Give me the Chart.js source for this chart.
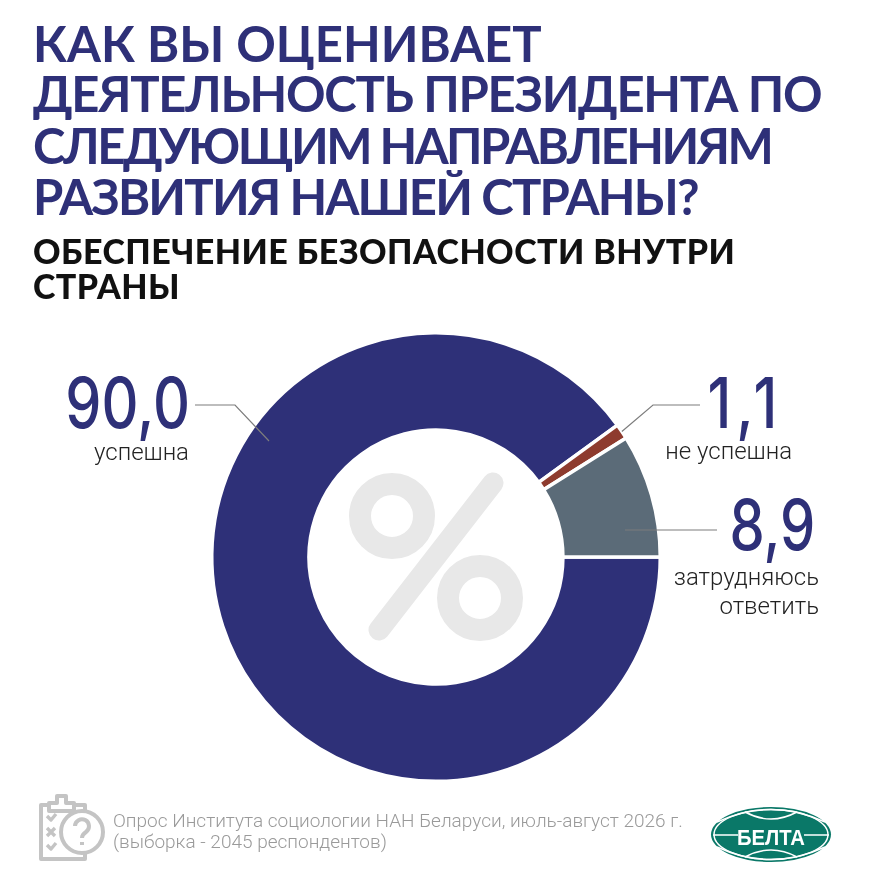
<!DOCTYPE html>
<html lang="ru"><head><meta charset="utf-8">
<script src="https://cdn.jsdelivr.net/npm/chart.js@4"></script>
<style>
html,body{margin:0;padding:0;background:#fff;width:870px;height:884px;overflow:hidden}
#wrap{position:relative;width:870px;height:884px}
canvas{position:absolute;left:0;top:0}
.t{position:absolute;white-space:nowrap;margin:0}
.title{left:33px;font:700 49px/51px Lato,sans-serif;color:#2e3078}
.sub{left:33px;font:900 34px/40px Lato,sans-serif;color:#111;letter-spacing:.45px}
.num{font:500 70px/70px Inter,sans-serif;color:#2e3078;transform:scaleX(.82);transform-origin:right center}
.lab{font:300 24px/28px Roboto,sans-serif;color:#222}
.src{left:113px;font:300 19px/21px Roboto,sans-serif;color:#9a9a9a}
svg{position:absolute;left:0;top:0}
</style></head><body><div id="wrap">
<canvas id="c" width="870" height="884"></canvas>
<svg id="deco" width="870" height="884" viewBox="0 0 870 884">
 <g fill="none" stroke="#e8e8e8" stroke-width="22">
  <circle cx="392" cy="516" r="32"/><circle cx="480" cy="598" r="32"/>
 </g>
 <line x1="493" y1="483" x2="379" y2="630" stroke="#e8e8e8" stroke-width="21" stroke-linecap="round"/>
 <g fill="none" stroke="#c4c4c4" stroke-width="4" stroke-linejoin="round">
  <rect x="41" y="805" width="44" height="54"/>
  <path d="M49 811V803H57V796H66V803H74V811Z" fill="#fff"/>
  <path d="M47 816l4 4 5-6M47 845l4 4 5-6M47 828l8 8M55 828l-8 8" stroke-width="3.4"/>
  <circle cx="82" cy="832" r="21" fill="#fff"/>
  <path d="M75 826a7 7 0 1 1 11 6c-3 2-4 3-4 6" stroke-width="4"/>
  <path d="M82 842v3" stroke-width="4"/>
 </g>
 <ellipse cx="771" cy="834.5" rx="60" ry="27.5" fill="#0a7868"/>
 <g fill="none" stroke="#fff" stroke-width="1.5">
  <ellipse cx="771" cy="834.5" rx="57" ry="25"/>
  <path d="M717 822 Q771 797 825 822"/><path d="M717 847 Q771 872 825 847"/>
  <path d="M745 812 Q771 826 797 812"/><path d="M745 857 Q771 843 797 857"/>
  <path d="M713 835H738M804 835H829"/>
 </g>
 <text x="771" y="845" text-anchor="middle" font-family="Liberation Sans" font-weight="700" font-size="22" textLength="68" lengthAdjust="spacingAndGlyphs" fill="#fff">БЕЛТА</text>
</svg>
<h1 class="t title" style="top:18px">КАК ВЫ ОЦЕНИВАЕТ</h1>
<div class="t title" style="top:68px;letter-spacing:-1.27px">ДЕЯТЕЛЬНОСТЬ ПРЕЗИДЕНТА ПО</div>
<div class="t title" style="top:120px;letter-spacing:-2.5px">СЛЕДУЮЩИМ НАПРАВЛЕНИЯМ</div>
<div class="t title" style="top:171px;letter-spacing:-1.8px">РАЗВИТИЯ НАШЕЙ СТРАНЫ?</div>
<div class="t sub" style="top:231px">ОБЕСПЕЧЕНИЕ БЕЗОПАСНОСТИ ВНУТРИ</div>
<div class="t sub" style="top:266px">СТРАНЫ</div>
<div class="t num" style="right:680px;top:368px" id="n0"></div>
<div class="t lab" style="right:681px;top:438px" id="l0"></div>
<div class="t num" style="right:88px;top:368px;letter-spacing:6px" id="n1"></div>
<div class="t lab" style="right:78px;top:437px" id="l1"></div>
<div class="t num" style="right:55px;top:490px;transform:scaleX(.8)" id="n2"></div>
<div class="t lab" style="right:51px;top:563px;text-align:right;line-height:29px" id="l2"></div>
<div class="t src" style="top:810px">Опрос Института социологии НАН Беларуси, июль-август 2026 г.</div>
<div class="t src" style="top:831px">(выборка - 2045 респондентов)</div>
</div>
<script>
const categories = ["успешна", "не успешна", "затрудняюсь<br>ответить"];
const shareValues = [90.0, 1.1, 8.9];
const sliceColors = ["#2e3078", "#8e3b2e", "#5b6b78"];
const fmt = v => v.toFixed(1).replace(".", ",");
shareValues.forEach((v,i)=>{
  document.getElementById("n"+i).textContent = fmt(v);
  document.getElementById("l"+i).innerHTML = categories[i];
});
const leaders = {
  id:"leaders",
  afterDatasetsDraw(chart){
    const g = chart.ctx, arcs = chart.getDatasetMeta(0).data;
    g.save(); g.strokeStyle="#7d7d7d"; g.lineWidth=1.2;
    const a1 = arcs[1].getProps(["x","y","startAngle","endAngle","outerRadius"]);
    const mid = (a1.startAngle+a1.endAngle)/2;
    const lines = [
      [[269,441],[235,405],[195,405]],
      [[a1.x+Math.cos(mid)*a1.outerRadius,a1.y+Math.sin(mid)*a1.outerRadius],[653,405],[700,405]],
      [[625,530],[717,530]]
    ];
    lines.forEach(l=>{g.beginPath();l.forEach((p,i)=>i?g.lineTo(p[0],p[1]):g.moveTo(p[0],p[1]));g.stroke();});
    g.restore();
  }
};
new Chart(document.getElementById("c"),{
  type:"doughnut",
  data:{labels:categories.map(c=>c.replace("<br>"," ")),datasets:[{data:shareValues,backgroundColor:sliceColors,borderColor:"#fff",borderWidth:3.5}]},
  options:{responsive:false,animation:false,rotation:90,cutout:"56.6%",
    layout:{padding:{left:210,right:208,top:331,bottom:101}},
    plugins:{legend:{display:false},tooltip:{enabled:false}}},
  plugins:[leaders]
});
</script></body></html>
